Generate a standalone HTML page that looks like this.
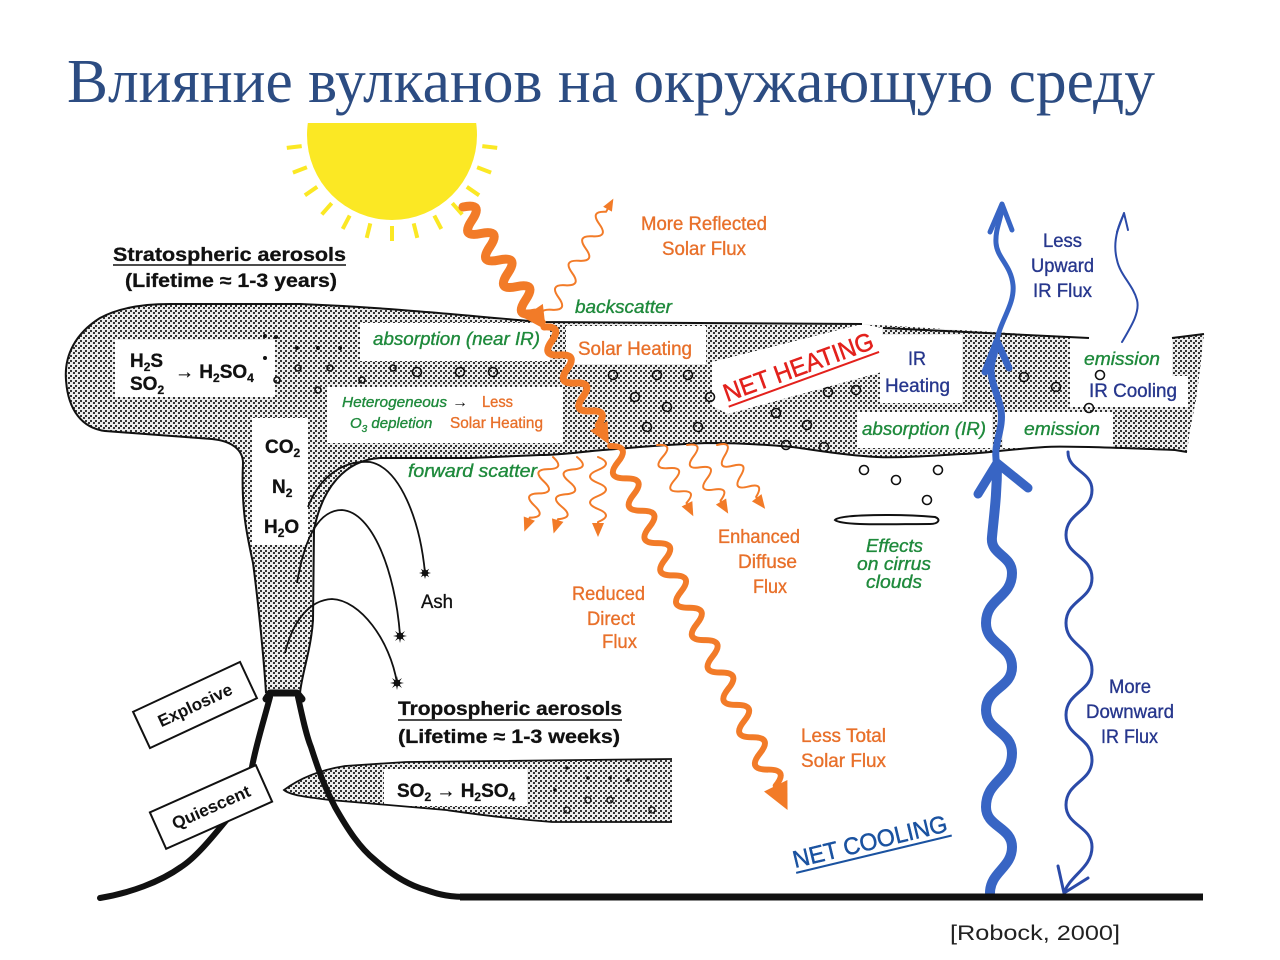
<!DOCTYPE html>
<html><head><meta charset="utf-8"><style>
html,body{margin:0;padding:0;background:#fff;}
svg{display:block;}
text{font-family:"Liberation Sans",Arial,sans-serif;}
.t{font-family:"Liberation Serif","Times New Roman",serif;}
.or{fill:#e8702a;font-size:19px;stroke:#e8702a;stroke-width:0.35px;}
.gr{fill:#1f8a3c;font-size:18px;font-style:italic;stroke:#1f8a3c;stroke-width:0.35px;}
.bl{fill:#27378d;font-size:19px;stroke:#27378d;stroke-width:0.35px;}
.bk{fill:#111;font-size:19px;stroke:#111;stroke-width:0.3px;}
</style></head><body>
<svg width="1280" height="960" viewBox="0 0 1280 960" xmlns="http://www.w3.org/2000/svg">
<defs>
<pattern id="st" width="5" height="5" patternUnits="userSpaceOnUse">
<rect width="5" height="5" fill="#ececec"/>
<rect x="0" y="0" width="2" height="2" fill="#333"/>
<rect x="3" y="2" width="2" height="2" fill="#333"/>
</pattern>
<clipPath id="sunclip"><rect x="0" y="123" width="1280" height="300"/></clipPath>
</defs>

<!-- Title -->
<text class="t" x="67" y="102" font-size="62" fill="#2c4c82" textLength="1088" lengthAdjust="spacingAndGlyphs">Влияние вулканов на окружающую среду</text>

<!-- Sun -->
<circle cx="392" cy="135" r="85" fill="#fbe824" clip-path="url(#sunclip)"/>
<g stroke="#fbe824" stroke-width="4" stroke-linecap="butt">
<line x1="482.3" y1="146.1" x2="497.2" y2="147.9"/>
<line x1="477.1" y1="167.3" x2="491.1" y2="172.6"/>
<line x1="466.8" y1="186.8" x2="479.1" y2="195.3"/>
<line x1="452.3" y1="203.2" x2="462.2" y2="214.4"/>
<line x1="434.3" y1="215.6" x2="441.3" y2="228.9"/>
<line x1="413.7" y1="223.4" x2="417.3" y2="237.9"/>
<line x1="392" y1="226" x2="392" y2="241"/>
<line x1="370.3" y1="223.4" x2="366.7" y2="237.9"/>
<line x1="349.7" y1="215.6" x2="342.7" y2="228.9"/>
<line x1="331.7" y1="203.2" x2="321.8" y2="214.4"/>
<line x1="317.2" y1="186.8" x2="304.9" y2="195.3"/>
<line x1="306.9" y1="167.3" x2="292.9" y2="172.6"/>
<line x1="301.7" y1="146.1" x2="286.8" y2="147.9"/>
</g>

<!-- Stratospheric labels -->
<text class="bk" x="113" y="261" font-weight="bold" textLength="233" lengthAdjust="spacingAndGlyphs">Stratospheric aerosols</text>
<line x1="113" y1="265" x2="346" y2="265" stroke="#111" stroke-width="1.5"/>
<text class="bk" x="125" y="287" font-weight="bold" textLength="212" lengthAdjust="spacingAndGlyphs">(Lifetime ≈ 1-3 years)</text>

<!-- Stratospheric band fill -->
<path d="M266,693 C264,660 258,600 253,563 C247,535 241,510 243,463 C243,450 232,441 212,439 L105,431 C82,428 68,410 66,380 C64,355 76,333 100,318 C120,307 145,304 170,304 L300,304 C380,307 450,314 540,322 L862,324 L1089,338 L1172,338 L1204,334 L1200,370 L1196,400 L1190,430 L1187,452 L1175,450 C1100,447 1060,446 1045,447 C1000,450 980,454 961,454 C930,456 900,458 877,457 C840,455 810,449 792,447 C760,444 730,443 708,443 C670,444 630,448 603,450 C580,452 560,455 540,455 L470,458 L380,458 C345,460 322,488 314,530 L313,620 C311,650 302,673 300,693 Z" fill="url(#st)"/>

<!-- White label boxes in band -->
<g fill="#fff">
<rect x="115" y="340" width="160" height="57"/>
<rect x="360" y="323" width="190" height="38"/>
<rect x="327" y="387" width="236" height="56"/>
<rect x="252" y="418" width="56" height="127"/>
<rect x="566" y="326" width="140" height="38"/>
<polygon points="712,362 862,324 882,328 882,372 728,414 712,406"/>
<rect x="880" y="335" width="82" height="68"/>
<rect x="1070" y="334" width="102" height="73"/>
<rect x="1160" y="376" width="28" height="31"/>
<rect x="857" y="412" width="135" height="36"/>
<rect x="1003" y="412" width="110" height="36"/>
</g>

<!-- Band outlines -->
<g fill="none" stroke="#111" stroke-width="2">
<path d="M266,693 C264,660 258,600 253,563 C247,535 241,510 243,463 C243,450 232,441 212,439 L105,431 C82,428 68,410 66,380 C64,355 76,333 100,318 C120,307 145,304 170,304 L300,304 C380,307 450,314 540,322 L862,324"/>
<path d="M883,328 L1089,338"/>
<path d="M1172,338 L1204,334"/>
<path d="M1187,452 L1175,450 C1100,447 1060,446 1045,447 C1000,450 980,454 961,454 C930,456 900,458 877,457 C840,455 810,449 792,447 C760,444 730,443 708,443 C670,444 630,448 603,450 C580,452 560,455 540,455 L470,458 L380,458 C345,460 322,488 314,530 L313,620 C311,650 302,673 300,693"/>
</g>

<!-- particles in band -->
<g fill="none" stroke="#111" stroke-width="1.6">
<circle cx="417" cy="372" r="4.5"/><circle cx="460" cy="372" r="4.5"/><circle cx="493" cy="372" r="4.5"/>
<circle cx="613" cy="375" r="4.5"/><circle cx="657" cy="375" r="4.5"/><circle cx="688" cy="375" r="4.5"/>
<circle cx="635" cy="397" r="4.5"/><circle cx="667" cy="407" r="4.5"/><circle cx="710" cy="397" r="4.5"/>
<circle cx="647" cy="427" r="4.5"/><circle cx="698" cy="427" r="4.5"/>
<circle cx="776" cy="413" r="4.5"/><circle cx="786" cy="445" r="4.5"/><circle cx="807" cy="425" r="4.5"/>
<circle cx="824" cy="447" r="4.5"/><circle cx="828" cy="392" r="4.5"/><circle cx="856" cy="390" r="4.5"/>
<circle cx="1024" cy="377" r="4.5"/><circle cx="1056" cy="387" r="4.5"/><circle cx="1100" cy="375" r="4.5"/><circle cx="1089" cy="408" r="4.5"/>
<circle cx="393" cy="368" r="3"/><circle cx="330" cy="368" r="3"/><circle cx="298" cy="368" r="3"/>
<circle cx="277" cy="380" r="3"/><circle cx="318" cy="390" r="3"/><circle cx="362" cy="380" r="3"/>
<circle cx="864" cy="470" r="4.5"/><circle cx="896" cy="480" r="4.5"/><circle cx="938" cy="470" r="4.5"/><circle cx="927" cy="500" r="4.5"/>
</g>
<g fill="#111">
<circle cx="265" cy="336" r="2"/><circle cx="276" cy="337" r="2"/><circle cx="297" cy="348" r="2"/>
<circle cx="318" cy="348" r="2"/><circle cx="340" cy="348" r="2"/><circle cx="265" cy="358" r="2"/>
</g>

<!-- Band text -->
<text class="bk" x="130" y="367" font-weight="bold">H<tspan font-size="12" dy="4">2</tspan><tspan dy="-4">S</tspan></text>
<text class="bk" x="130" y="390" font-weight="bold">SO<tspan font-size="12" dy="4">2</tspan></text>
<text class="bk" x="175" y="378" font-weight="bold">→ H<tspan font-size="12" dy="4">2</tspan><tspan dy="-4">SO</tspan><tspan font-size="12" dy="4">4</tspan></text>
<text class="gr" x="373" y="345" textLength="167" lengthAdjust="spacingAndGlyphs">absorption (near IR)</text>
<text class="gr" x="342" y="407" style="font-size:15px" textLength="105" lengthAdjust="spacingAndGlyphs">Heterogeneous</text>
<text x="452" y="407" font-size="16" fill="#111">→</text>
<text class="or" x="482" y="407" style="font-size:16px" textLength="31" lengthAdjust="spacingAndGlyphs">Less</text>
<text class="gr" x="350" y="428" style="font-size:15px">O<tspan font-size="10" dy="4">3</tspan><tspan dy="-4"> depletion</tspan></text>
<text class="or" x="450" y="428" style="font-size:16px" textLength="93" lengthAdjust="spacingAndGlyphs">Solar Heating</text>
<text class="bk" x="265" y="453" font-weight="bold">CO<tspan font-size="12" dy="4">2</tspan></text>
<text class="bk" x="272" y="493" font-weight="bold">N<tspan font-size="12" dy="4">2</tspan></text>
<text class="bk" x="264" y="533" font-weight="bold">H<tspan font-size="12" dy="4">2</tspan><tspan dy="-4">O</tspan></text>
<text class="or" x="578" y="355" textLength="114" lengthAdjust="spacingAndGlyphs">Solar Heating</text>
<g transform="translate(727,402) rotate(-20)">
<text x="0" y="0" font-size="25" fill="#e3211c" stroke="#e3211c" stroke-width="0.5" textLength="158" lengthAdjust="spacingAndGlyphs">NET HEATING</text>
<line x1="0" y1="5" x2="160" y2="5" stroke="#e3211c" stroke-width="2"/>
</g>
<text class="bl" x="908" y="365" textLength="18" lengthAdjust="spacingAndGlyphs">IR</text>
<text class="bl" x="885" y="392" textLength="65" lengthAdjust="spacingAndGlyphs">Heating</text>
<text class="gr" x="1084" y="365" textLength="76" lengthAdjust="spacingAndGlyphs">emission</text>
<text class="bl" x="1089" y="397" textLength="88" lengthAdjust="spacingAndGlyphs">IR Cooling</text>
<text class="gr" x="862" y="435" textLength="124" lengthAdjust="spacingAndGlyphs">absorption (IR)</text>
<text class="gr" x="1024" y="435" textLength="76" lengthAdjust="spacingAndGlyphs">emission</text>

<!-- outside labels -->
<text class="gr" x="575" y="313" textLength="97" lengthAdjust="spacingAndGlyphs">backscatter</text>
<text class="gr" x="408" y="477" textLength="129" lengthAdjust="spacingAndGlyphs">forward scatter</text>
<text class="or" x="641" y="230" textLength="126" lengthAdjust="spacingAndGlyphs">More Reflected</text>
<text class="or" x="662" y="255" textLength="84" lengthAdjust="spacingAndGlyphs">Solar Flux</text>
<text class="or" x="718" y="543" textLength="82" lengthAdjust="spacingAndGlyphs">Enhanced</text>
<text class="or" x="738" y="568" textLength="59" lengthAdjust="spacingAndGlyphs">Diffuse</text>
<text class="or" x="753" y="593" textLength="34" lengthAdjust="spacingAndGlyphs">Flux</text>
<text class="or" x="572" y="600" textLength="73" lengthAdjust="spacingAndGlyphs">Reduced</text>
<text class="or" x="587" y="625" textLength="48" lengthAdjust="spacingAndGlyphs">Direct</text>
<text class="or" x="602" y="648" textLength="35" lengthAdjust="spacingAndGlyphs">Flux</text>
<text class="or" x="801" y="742" textLength="85" lengthAdjust="spacingAndGlyphs">Less Total</text>
<text class="or" x="801" y="767" textLength="85" lengthAdjust="spacingAndGlyphs">Solar Flux</text>
<text class="gr" x="866" y="552" textLength="57" lengthAdjust="spacingAndGlyphs">Effects</text>
<text class="gr" x="857" y="570" textLength="74" lengthAdjust="spacingAndGlyphs">on cirrus</text>
<text class="gr" x="866" y="588" textLength="56" lengthAdjust="spacingAndGlyphs">clouds</text>
<text class="bl" x="1043" y="247" textLength="39" lengthAdjust="spacingAndGlyphs">Less</text>
<text class="bl" x="1031" y="272" textLength="63" lengthAdjust="spacingAndGlyphs">Upward</text>
<text class="bl" x="1033" y="297" textLength="59" lengthAdjust="spacingAndGlyphs">IR Flux</text>
<text class="bl" x="1109" y="693" textLength="42" lengthAdjust="spacingAndGlyphs">More</text>
<text class="bl" x="1086" y="718" textLength="88" lengthAdjust="spacingAndGlyphs">Downward</text>
<text class="bl" x="1101" y="743" textLength="57" lengthAdjust="spacingAndGlyphs">IR Flux</text>
<g transform="translate(795,868) rotate(-13.5)">
<text x="0" y="0" font-size="24" fill="#1a52a0" stroke="#1a52a0" stroke-width="0.5" textLength="158" lengthAdjust="spacingAndGlyphs">NET COOLING</text>
<line x1="0" y1="5" x2="160" y2="5" stroke="#1a52a0" stroke-width="2"/>
</g>

<!-- cirrus cloud -->
<path d="M835,520 C840,514 900,514 935,517 C941,519 939,524 930,524 C890,524 842,526 835,520 Z" fill="#fff" stroke="#111" stroke-width="2"/>

<!-- Orange arrows -->
<g fill="none" stroke="#f27b28" stroke-linejoin="round" stroke-linecap="round">
<g transform="translate(463,207) rotate(56)">
<path stroke-width="9" d="M0,0 q8,-20 16,0 t16,0 t16,0 t16,0 t16,0 t16,0 t16,0 t16,0 L130,0"/>
</g>
<g transform="translate(544,327) rotate(61)">
<path stroke-width="7" d="M0,0 q8,-17 16,0 t16,0 t16,0 t16,0 t16,0 t16,0 t16,0 L116,0"/>
</g>
<g transform="translate(610,446) rotate(64)">
<path stroke-width="6" d="M0,0 q9,-19 18,0 t18,0 t18,0 t18,0 t18,0 t18,0 t18,0 t18,0 t18,0 t18,0 t18,0 t18,0 t18,0 t18,0 t18,0 t18,0 t18,0 t18,0 t18,0 t18,0 t18,0 L382,0"/>
</g>
<g transform="translate(545,322) rotate(-61)">
<path stroke-width="2" d="M0,0 q7,-15 14,0 t14,0 t14,0 t14,0 t14,0 t14,0 t14,0 t14,0 t14,0 L131,0"/>
</g>
<g stroke-width="2">
<path transform="translate(553,457) rotate(111)" d="M0,0 q6.5,-16 13,0 t13,0 t13,0 t13,0 t13,0 L68,0"/>
<path transform="translate(577,457) rotate(107)" d="M0,0 q6.5,-16 13,0 t13,0 t13,0 t13,0 t13,0 L68,0"/>
<path transform="translate(598,457) rotate(90)" d="M0,0 q6.5,-16 13,0 t13,0 t13,0 t13,0 t13,0 L68,0"/>
<path transform="translate(657,445) rotate(63)" d="M0,0 q6.5,-16 13,0 t13,0 t13,0 t13,0 t13,0 L68,0"/>
<path transform="translate(687,445) rotate(59)" d="M0,0 q6.5,-16 13,0 t13,0 t13,0 t13,0 t13,0 L68,0"/>
<path transform="translate(717,445) rotate(53)" d="M0,0 q6.5,-16 13,0 t13,0 t13,0 t13,0 t13,0 L68,0"/>
</g>
</g>
<g fill="#f27b28">
<polygon transform="translate(463,207) rotate(56)" points="148,0 125,-12 125,12"/>
<polygon transform="translate(544,327) rotate(61)" points="134,0 113,-10 113,10"/>
<polygon transform="translate(610,446) rotate(64)" points="405,0 378,-13 378,13"/>
<polygon transform="translate(545,322) rotate(-61)" points="141,0 129,-5 129,5"/>
<polygon transform="translate(553,457) rotate(111)" points="80,0 66,-6 66,6"/>
<polygon transform="translate(577,457) rotate(107)" points="80,0 66,-6 66,6"/>
<polygon transform="translate(598,457) rotate(90)" points="80,0 66,-6 66,6"/>
<polygon transform="translate(657,445) rotate(63)" points="80,0 66,-6 66,6"/>
<polygon transform="translate(687,445) rotate(59)" points="80,0 66,-6 66,6"/>
<polygon transform="translate(717,445) rotate(53)" points="80,0 66,-6 66,6"/>
</g>

<!-- Blue arrows -->
<g fill="none" stroke="#3865c4" stroke-linecap="round" stroke-linejoin="round">
<path stroke-width="10" d="M990,893 C990,872 1012,868 1012,847 C1012,827 986,827 986,807 C986,780 1012,780 1012,753 C1012,731 986,731 986,710 C986,688 1012,688 1012,667 C1012,645 986,645 986,623 C986,598 1012,598 1012,573 C1012,555 990,555 992,537 C994,515 997,495 997,465"/>
<path stroke-width="9" d="M978,494 L997,463 L1028,488"/>
<path stroke-width="7" d="M997,465 C992,445 1004,430 1001,410 C998,392 988,380 992,362 L997,342"/>
<path stroke-width="7" d="M985,372 L997,341 L1009,368"/>
<path stroke-width="5" d="M997,342 C999,322 1015,305 1013,285 C1011,265 997,258 996,243 C995,228 1002,218 1002,206"/>
<path stroke-width="5" d="M990,232 L1002,204 L1012,230"/>
</g>
<g fill="none" stroke="#2b4aa8" stroke-linecap="round" stroke-linejoin="round">
<path stroke-width="3" d="M1068,452 C1068,471 1092,471 1092,490 C1092,512 1066,512 1066,535 C1066,556 1092,556 1092,578 C1092,600 1066,600 1066,623 C1066,646 1092,646 1092,670 C1092,692 1066,692 1066,715 C1066,737 1092,737 1092,760 C1092,782 1066,782 1066,805 C1066,826 1092,826 1092,847 C1092,868 1070,875 1064,893"/>
<path stroke-width="3" d="M1058,866 L1064,893 L1088,878"/>
<path stroke-width="2" d="M1122,342 C1132,325 1140,312 1137,300 C1133,285 1120,275 1117,260 C1113,245 1116,230 1124,214"/>
<path stroke-width="2" d="M1117,232 L1124,213 L1128,230"/>
</g>

<!-- Ash -->
<g fill="none" stroke="#111" stroke-width="1.8">
<path d="M308,507 C320,475 345,460 370,462 C400,468 420,520 425,573"/>
<path d="M297,583 C305,535 320,510 342,510 C372,512 395,570 400,635"/>
<path d="M285,653 C293,620 310,600 332,599 C360,600 390,640 397,683"/>
</g>
<g fill="#111">
<g transform="translate(425,573)"><circle r="3.2"/><polygon points="6,0 2.3,1 4.2,4.2 1,2.3 0,6 -1,2.3 -4.2,4.2 -2.3,1 -6,0 -2.3,-1 -4.2,-4.2 -1,-2.3 0,-6 1,-2.3 4.2,-4.2 2.3,-1"/></g>
<g transform="translate(400,636)"><circle r="3.4"/><polygon points="7,0 2.3,1 5,5 1,2.3 0,7 -1,2.3 -5,5 -2.3,1 -7,0 -2.3,-1 -5,-5 -1,-2.3 0,-7 1,-2.3 5,-5 2.3,-1"/></g>
<g transform="translate(397,683)"><circle r="3.4"/><polygon points="7,0 2.3,1 5,5 1,2.3 0,7 -1,2.3 -5,5 -2.3,1 -7,0 -2.3,-1 -5,-5 -1,-2.3 0,-7 1,-2.3 5,-5 2.3,-1"/></g>
</g>
<text class="bk" x="421" y="608" textLength="32" lengthAdjust="spacingAndGlyphs">Ash</text>

<!-- Tropospheric -->
<text class="bk" x="398" y="715" font-weight="bold" textLength="224" lengthAdjust="spacingAndGlyphs">Tropospheric aerosols</text>
<line x1="398" y1="720" x2="622" y2="720" stroke="#111" stroke-width="1.5"/>
<text class="bk" x="398" y="743" font-weight="bold" textLength="222" lengthAdjust="spacingAndGlyphs">(Lifetime ≈ 1-3 weeks)</text>
<path d="M284,790 C300,778 320,770 345,766 L406,762 L672,759 L672,822 L552,822 C500,818 460,812 446,810 L330,800 C305,797 290,795 284,790 Z" fill="url(#st)"/>
<rect x="384" y="769" width="143" height="37" fill="#fff"/>
<path d="M672,759 L406,762 L345,766 C320,770 300,778 284,790 C290,795 305,797 330,800 L446,810 C460,812 500,818 552,822 L672,822" fill="none" stroke="#111" stroke-width="1.8"/>
<g fill="none" stroke="#111" stroke-width="1.3">
<circle cx="588" cy="800" r="3"/><circle cx="610" cy="800" r="3"/><circle cx="567" cy="810" r="3"/><circle cx="652" cy="810" r="3"/>
</g>
<g fill="#111"><circle cx="567" cy="768" r="1.8"/><circle cx="588" cy="778" r="1.8"/><circle cx="610" cy="778" r="1.8"/><circle cx="628" cy="780" r="1.8"/><circle cx="555" cy="790" r="1.8"/></g>
<text class="bk" x="397" y="797" font-weight="bold">SO<tspan font-size="12" dy="4">2</tspan><tspan dy="-4"> → H</tspan><tspan font-size="12" dy="4">2</tspan><tspan dy="-4">SO</tspan><tspan font-size="12" dy="4">4</tspan></text>

<!-- Volcano -->
<g fill="none" stroke="#111" stroke-linecap="round" stroke-linejoin="round">
<path stroke-width="6" d="M270,697 C264,720 256,745 252,767 C246,790 238,808 224,823 C210,840 195,858 181,867 C160,882 130,893 100,898"/>
<path stroke-width="6" d="M298,697 C302,715 306,735 311,747 C320,775 326,790 335,807 C348,830 360,848 375,860 C392,875 408,885 426,890 C440,895 450,897 470,897"/>
<path stroke-width="7" d="M266,699 L270,693 L297,693 L302,699"/>
</g>
<line x1="460" y1="897" x2="1203" y2="897" stroke="#111" stroke-width="7"/>

<!-- Explosive / Quiescent boxes -->
<g transform="translate(195,705) rotate(-25)">
<rect x="-59" y="-20" width="118" height="40" fill="#fff" stroke="#111" stroke-width="2"/>
<text x="0" y="6" text-anchor="middle" font-size="17" font-weight="bold" fill="#111" textLength="80" lengthAdjust="spacingAndGlyphs">Explosive</text>
</g>
<g transform="translate(211,807) rotate(-24)">
<rect x="-58" y="-20" width="116" height="40" fill="#fff" stroke="#111" stroke-width="2"/>
<text x="0" y="6" text-anchor="middle" font-size="17" font-weight="bold" fill="#111" textLength="84" lengthAdjust="spacingAndGlyphs">Quiescent</text>
</g>

<!-- citation -->
<text x="950" y="940" font-size="21" fill="#222" textLength="170" lengthAdjust="spacingAndGlyphs">[Robock, 2000]</text>
</svg>
</body></html>
